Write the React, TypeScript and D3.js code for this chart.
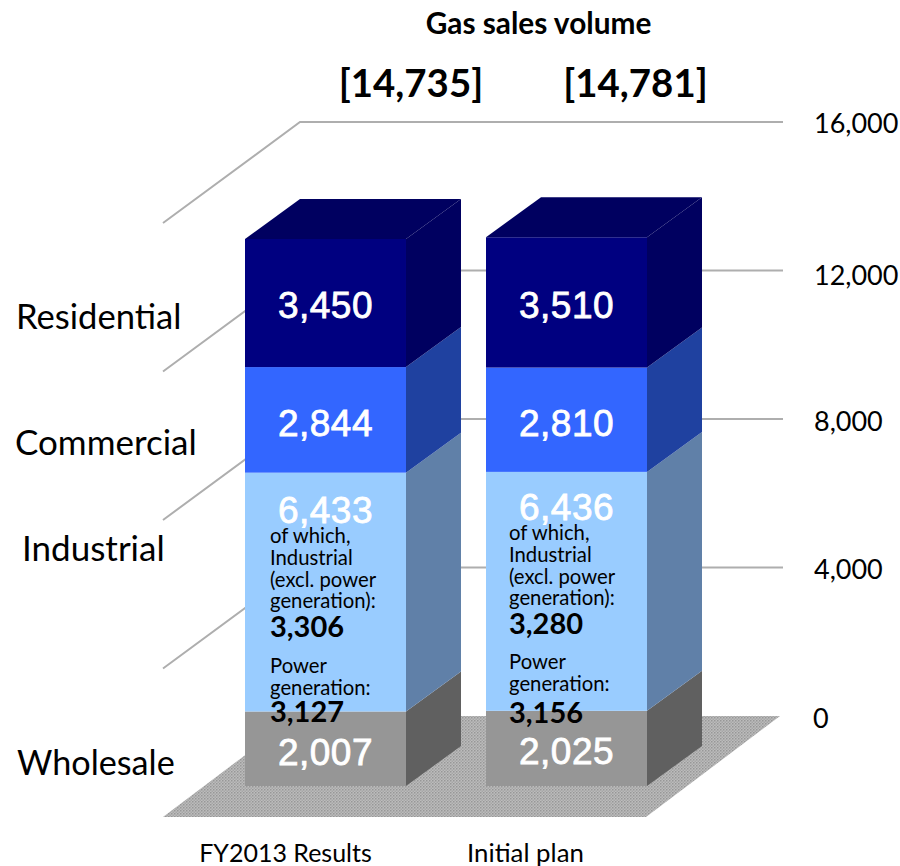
import React from "react";
import * as d3 from "d3";

// Gas sales volume by sector, stacked from the bottom up
const categories = ["FY2013 Results", "Initial plan"];
const wholesale = [2007, 2025];
const industrial = [6433, 6436];
const commercial = [2844, 2810];
const residential = [3450, 3510];
const totals = ["[14,735]", "[14,781]"];
const ofWhichIndustrial = ["3,306", "3,280"];
const ofWhichPower = ["3,127", "3,156"];
const sectorKeys = ["Wholesale", "Industrial", "Commercial", "Residential"];
const yTicks = [0, 4000, 8000, 12000, 16000];

const seriesBySector: Record<string, number[]> = {
  Wholesale: wholesale,
  Industrial: industrial,
  Commercial: commercial,
  Residential: residential,
};

const faceColors: Record<string, { front: string; side: string; top: string }> = {
  Wholesale: { front: "#969696", side: "#606060", top: "#606060" },
  Industrial: { front: "#99ccff", side: "#6080a8", top: "#6080a8" },
  Commercial: { front: "#3366ff", side: "#1f41a0", top: "#1f41a0" },
  Residential: { front: "#000080", side: "#000060", top: "#000060" },
};

// Perspective of the 3-D box: offset from the front plane to the back wall
const barDx = 55;
const barDy = -40;
const floorDx = 134;
const floorDy = -101;

const SANS = "Lato, Carlito, Calibri, sans-serif";
const NUM = "'Liberation Sans', Arial, sans-serif";

const backY = d3.scaleLinear().domain([0, 16000]).range([716, 122]);
const frontY = (v: number) => backY(v) + 70;
const xBand = d3
  .scaleBand<string>()
  .domain(categories)
  .range([245, 647])
  .paddingInner(0.332)
  .paddingOuter(0);

const rows = categories.map((c, i) => {
  const row: Record<string, any> = { category: c };
  sectorKeys.forEach((k) => (row[k] = seriesBySector[k][i]));
  return row;
});
const stacked = d3.stack<any>().keys(sectorKeys)(rows);

const poly = (pts: [number, number][]) => pts.map((p) => p.join(",")).join(" ");
const gridColor = "#aeaeae";

const valueBaselines: Record<string, number[]> = {
  Residential: [318, 318],
  Commercial: [436, 436],
  Industrial: [523, 520],
  Wholesale: [765, 764],
};

const noteX = [270, 509];
const noteLines = [
  [543, 565, 587, 608],
  [540, 562, 584, 605],
];
const noteValueY = [637, 634];
const powerLines = [
  [673, 695],
  [669, 691],
];
const powerValueY = [722, 723];
const noteText = ["of which,", "Industrial", "(excl. power", "generation):"];
const powerText = ["Power", "generation:"];

const sideLabels: [string, number, number, number][] = [
  ["Residential", 16, 329, 34.6],
  ["Commercial", 15, 455, 35],
  ["Industrial", 22, 561, 35],
  ["Wholesale", 17, 775, 34.2],
];
const tickLabelY: Record<number, number> = { 16000: 133, 12000: 285, 8000: 431, 4000: 579, 0: 728 };

export default function App() {
  const w = xBand.bandwidth();
  const fmt = d3.format(",");
  return (
    <svg
      width={900}
      height={866}
      viewBox="0 0 900 866"
      style={{ position: "absolute", left: 0, top: 0, background: "#fff" }}
    >
      <defs>
        <pattern id="floorDots" width={3} height={3} patternUnits="userSpaceOnUse">
          <rect width={3} height={3} fill="#bcbcbc" />
          <rect width={1.5} height={1.5} fill="#979797" />
          <rect x={1.5} y={1.5} width={1.5} height={1.5} fill="#a6a6a6" />
        </pattern>
      </defs>

      <polygon
        points={poly([
          [163, 817],
          [646, 817],
          [646 + floorDx, 817 + floorDy],
          [163 + floorDx, 817 + floorDy],
        ])}
        fill="url(#floorDots)"
      />

      {yTicks
        .filter((t) => t > 0)
        .map((t) => (
          <polyline
            key={t}
            points={poly([
              [163, backY(t) - floorDy],
              [163 + floorDx + 3, backY(t)],
              [783, backY(t)],
            ])}
            fill="none"
            stroke={gridColor}
            strokeWidth={2}
          />
        ))}

      {categories.map((cat, i) => {
        const x0 = xBand(cat)!;
        const x1 = x0 + w;
        return (
          <g key={cat}>
            {stacked.map((s) => {
              const y0 = frontY(s[i][0]);
              const y1 = frontY(s[i][1]);
              const c = faceColors[s.key];
              return (
                <g key={s.key}>
                  <polygon
                    points={poly([
                      [x1, y0],
                      [x1 + barDx, y0 + barDy],
                      [x1 + barDx, y1 + barDy],
                      [x1, y1],
                    ])}
                    fill={c.side}
                  />
                  <rect x={x0} y={y1} width={w} height={y0 - y1} fill={c.front} />
                </g>
              );
            })}
            {(() => {
              const top = stacked[stacked.length - 1];
              const yt = frontY(top[i][1]);
              return (
                <polygon
                  points={poly([
                    [x0, yt],
                    [x0 + barDx, yt + barDy],
                    [x1 + barDx, yt + barDy],
                    [x1, yt],
                  ])}
                  fill={faceColors[top.key].top}
                />
              );
            })()}
          </g>
        );
      })}

      {categories.map((cat, i) => {
        const cx = xBand(cat)! + w / 2;
        return (
          <g key={cat}>
            {sectorKeys.map((k) => (
              <text
                key={k}
                x={cx}
                y={valueBaselines[k][i]}
                textAnchor="middle"
                fontFamily={NUM}
                fontSize={37}
                fontWeight={400}
                letterSpacing={0.5}
                fill="#fff"
                stroke="#fff"
                strokeWidth={0.8}
              >
                {fmt(seriesBySector[k][i])}
              </text>
            ))}
            {noteText.map((t, j) => (
              <text key={t} x={noteX[i]} y={noteLines[i][j]} fontFamily={SANS} fontSize={20.3} fill="#000">
                {t}
              </text>
            ))}
            <text x={noteX[i]} y={noteValueY[i]} fontFamily={SANS} fontSize={29} fontWeight={700} fill="#000">
              {ofWhichIndustrial[i]}
            </text>
            {powerText.map((t, j) => (
              <text key={t} x={noteX[i]} y={powerLines[i][j]} fontFamily={SANS} fontSize={20.3} fill="#000">
                {t}
              </text>
            ))}
            <text x={noteX[i]} y={powerValueY[i]} fontFamily={SANS} fontSize={29} fontWeight={700} fill="#000">
              {ofWhichPower[i]}
            </text>
          </g>
        );
      })}

      {sideLabels.map(([t, x, y, size]) => (
        <text key={t} x={x} y={y} fontFamily={SANS} fontSize={size} fill="#000">
          {t}
        </text>
      ))}

      {yTicks.map((t) => (
        <text key={t} x={t === 0 ? 813 : 814} y={tickLabelY[t]} fontFamily={SANS} fontSize={27} fill="#000">
          {fmt(t)}
        </text>
      ))}

      <text x={538.5} y={34} textAnchor="middle" fontFamily={SANS} fontSize={29.8} fontWeight={700} fill="#000">
        Gas sales volume
      </text>
      <text x={411} y={97} textAnchor="middle" fontFamily={SANS} fontSize={38.4} fontWeight={700} fill="#000">
        {totals[0]}
      </text>
      <text x={635.5} y={97} textAnchor="middle" fontFamily={SANS} fontSize={38.4} fontWeight={700} fill="#000">
        {totals[1]}
      </text>

      <text x={285.5} y={862} textAnchor="middle" fontFamily={SANS} fontSize={25} fill="#000">
        {categories[0]}
      </text>
      <text x={525.5} y={862} textAnchor="middle" fontFamily={SANS} fontSize={25.8} fill="#000">
        {categories[1]}
      </text>
    </svg>
  );
}
